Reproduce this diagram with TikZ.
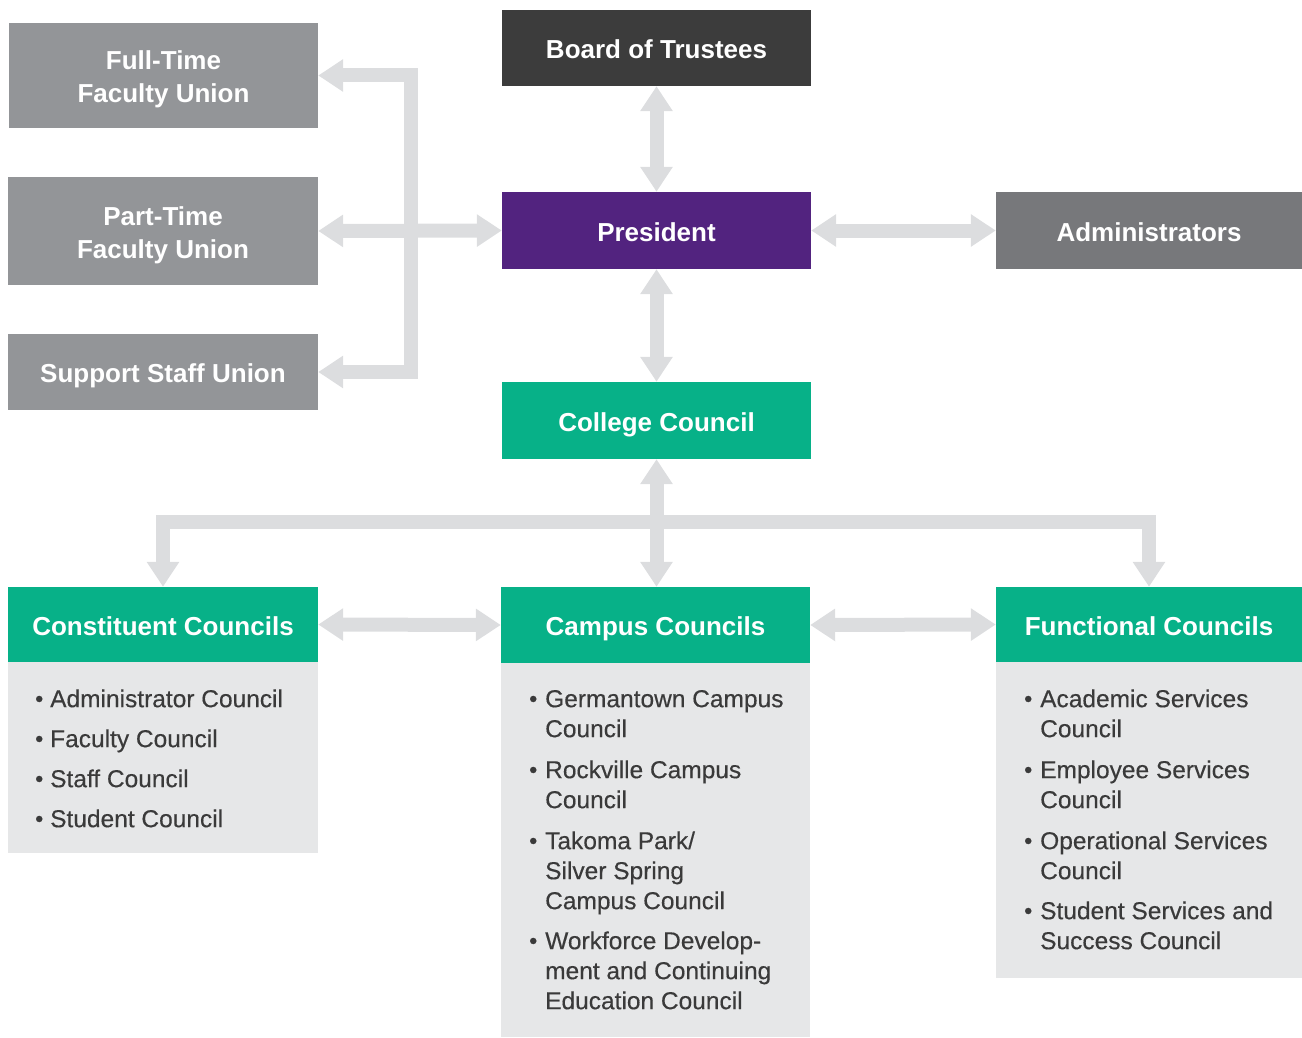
\documentclass[tikz,border=0pt]{standalone}
\usepackage{fontspec}
\setmainfont{Liberation Sans}
\newfontfamily\medfont{Liberation Sans}[FakeBold=0.35]
\usetikzlibrary{arrows.meta}
\definecolor{uniongray}{HTML}{939598}
\definecolor{admingray}{HTML}{77787B}
\definecolor{boardc}{HTML}{3C3C3C}
\definecolor{presc}{HTML}{52237F}
\definecolor{greenc}{HTML}{07B188}
\definecolor{bodyc}{HTML}{E6E7E8}
\definecolor{arrowc}{HTML}{DCDDDF}
\definecolor{textc}{HTML}{3A3A3A}
\newcommand{\bitem}{\raisebox{0.5pt}{\scalebox{0.95}{\textbullet}}}
\newcommand{\topstrut}{\rule{0pt}{26.5pt}}
\begin{document}
\begin{tikzpicture}[x=1pt,y=-1pt,
  hdr/.style={inner sep=0pt, text=white, align=center, font=\fontsize{26}{33}\selectfont\bfseries},
  onehdr/.style={hdr, text height=21.6pt, text depth=0pt},
  bodybox/.style={inner sep=0pt, fill=bodyc},
  listtext/.style={inner sep=0pt, anchor=north west, text=textc, font=\fontsize{24.5}{30}\medfont},
  conn/.style={draw=arrowc, line width=14pt, line join=miter,
    arrows={Triangle[width=31pt,length=25pt]-Triangle[width=31pt,length=25pt]}}]
\useasboundingbox (0,0) rectangle (1302,1038);
% top boxes
\node[hdr, fill=uniongray, minimum width=309, minimum height=105] (ft) at (163.5,75.5) {\topstrut Full-Time\\Faculty Union};
\node[hdr, fill=uniongray, minimum width=310, minimum height=108] (pt) at (163,231) {\topstrut Part-Time\\Faculty Union};
\node[onehdr, fill=uniongray, minimum width=310, minimum height=76] (ss) at (163,372) {Support Staff Union};
\node[onehdr, fill=boardc, minimum width=309, minimum height=76] (board) at (656.5,48) {Board of Trustees};
\node[onehdr, fill=presc, minimum width=309, minimum height=77] (pres) at (656.5,230.5) {President};
\node[onehdr, fill=admingray, minimum width=306, minimum height=77] (admin) at (1149,230.5) {Administrators};
\node[onehdr, fill=greenc, minimum width=309, minimum height=77] (college) at (656.5,420.5) {College Council};
% council bodies
\node[bodybox, minimum width=310, minimum height=191] (consb) at (163,757.5) {};
\node[bodybox, minimum width=309, minimum height=374] (campb) at (655.5,850) {};
\node[bodybox, minimum width=306, minimum height=316] (funcb) at (1149,820) {};
% council headers
\node[onehdr, fill=greenc, minimum width=310, minimum height=75] (cons) at (163,624.5) {Constituent Councils};
\node[onehdr, fill=greenc, minimum width=309, minimum height=76] (camp) at (655.5,625) {Campus Councils};
\node[onehdr, fill=greenc, minimum width=306, minimum height=75] (func) at (1149,624.5) {Functional Councils};
% lists
\node[listtext] (consl) at (35,686) {\begin{tabular}{@{}p{15pt}@{}l@{}}
\bitem & Administrator Council\\[10pt]
\bitem & Faculty Council\\[10pt]
\bitem & Staff Council\\[10pt]
\bitem & Student Council
\end{tabular}};
\node[listtext] (campl) at (529,686) {\begin{tabular}{@{}p{16pt}@{}l@{}}
\bitem & Germantown Campus\\
 & Council\\[11pt]
\bitem & Rockville Campus\\
 & Council\\[11pt]
\bitem & Takoma Park/\\
 & Silver Spring\\
 & Campus Council\\[10pt]
\bitem & Workforce Develop-\\
 & ment and Continuing\\
 & Education Council
\end{tabular}};
\node[listtext] (funcl) at (1024,686) {\begin{tabular}{@{}p{16pt}@{}l@{}}
\bitem & Academic Services\\
 & Council\\[11pt]
\bitem & Employee Services\\
 & Council\\[11pt]
\bitem & Operational Services\\
 & Council\\[10pt]
\bitem & Student Services and\\
 & Success Council
\end{tabular}};
% connectors
\coordinate (lt) at (411,75.5);
\coordinate (lb) at (411,372);
\coordinate (bl) at (163,522);
\coordinate (br) at (1149,522);
\draw[conn] (ft.east) -- (lt) -- (lb) -- (ss.east);
\draw[conn] (pt.east) -- (pres.west);
\draw[conn] (board.south) -- (pres.north);
\draw[conn] (pres.east) -- (admin.west);
\draw[conn] (pres.south) -- (college.north);
\draw[conn] (cons.north) -- (bl) -- (br) -- (func.north);
\draw[conn] (college.south) -- (college.south |- camp.north);
\draw[conn] (cons.east) -- (camp.west);
\draw[conn] (camp.east) -- (func.west);
\end{tikzpicture}
\end{document}
